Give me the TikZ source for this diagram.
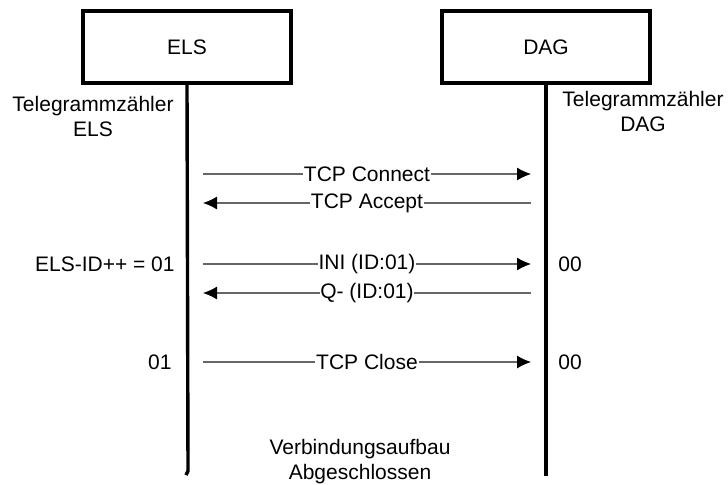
\documentclass[tikz,border=0pt]{standalone}
\usepackage{fontspec}
\setmainfont{Liberation Sans}
\usetikzlibrary{arrows.meta,positioning}
\tikzstyle{party} = [rectangle,draw,line width=1.6pt,minimum width=104pt,
  minimum height=36pt]
\tikzstyle{life} = [line width=1.7pt]
\tikzstyle{msg} = [draw=black!60,line width=0.55pt,
  -{Latex[length=7pt,width=6.5pt,color=black]}]
\tikzstyle{lbl} = [fill=white,inner sep=0.4pt]
\tikzstyle{count} = [inner sep=0pt]
\tikzstyle{note} = [align=center,inner sep=0pt]

\begin{document}
\begin{tikzpicture}[
  x=0.5pt,y=-0.5pt,
  every node/.style={font=\fontsize{10.5}{12.5}\selectfont}
]
\useasboundingbox (0,0) rectangle (728,484);

\node [party] (els) at (187,47) {ELS};
\node [party] (dag) at (546,47) {DAG};

% lifelines
\coordinate (elsend) at (188,471);
\coordinate (dagend) at (546,476);
\draw [life] (els.south) -- (elsend) -- ++(-2,4);
\draw [life] (dag.south) -- (dagend);

\node [note] (elscnt) at (93,116) {Telegrammzähler\\ELS};
\node [note] (dagcnt) at (643,111) {Telegrammzähler\\DAG};

\foreach \n/\y in {1/174,2/203,3/264,4/293,5/362} {
  \coordinate (l\n) at (203,\y);
  \coordinate (r\n) at (531,\y);
}

\draw [msg] (l1) -- node [lbl] {TCP Connect} (r1);
\draw [msg] (r2) -- node [lbl] {TCP Accept} (l2);
\draw [msg] (l3) -- node [lbl] {INI (ID:01)} (r3);
\draw [msg] (r4) -- node [lbl] {Q- (ID:01)} (l4);
\draw [msg] (l5) -- node [lbl] {TCP Close} (r5);

% telegram counters
\node [count,left=14pt of l3] (elsid) {ELS-ID++ = 01};
\node [count,right=13.5pt of r3] (dagid) {00};
\node [count,left=15.5pt of l5] (elsid2) {01};
\node [count,right=13.5pt of r5] (dagid2) {00};

\node [note] (done) at (360,462) {Verbindungsaufbau\\Abgeschlossen};
\end{tikzpicture}
\end{document}
